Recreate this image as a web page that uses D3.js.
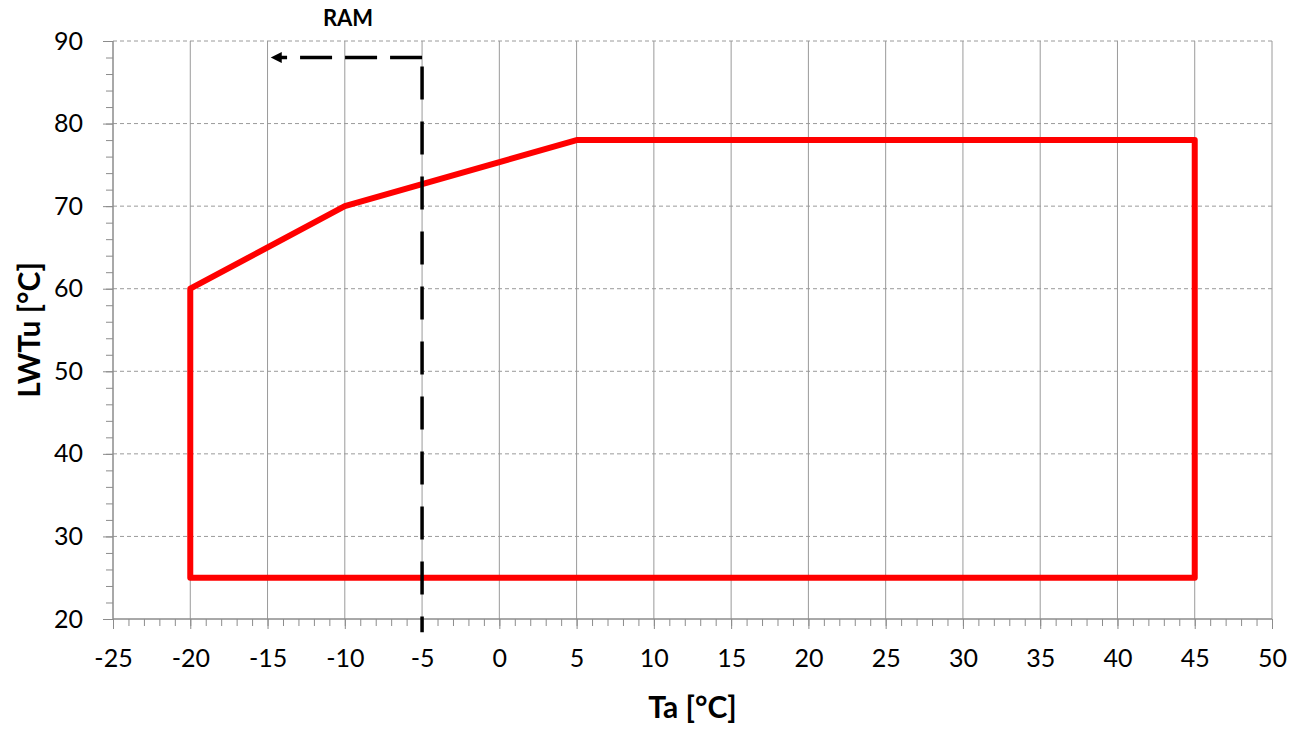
<!DOCTYPE html>
<html>
<head>
<meta charset="utf-8">
<script src="https://cdn.jsdelivr.net/npm/d3@7"></script>
<style>
  body { margin: 0; background: #fff; }
  text { font-family: Lato, "Open Sans", sans-serif; }
</style>
</head>
<body>
<div id="chart"></div>
<script>
// envelope of the operating range
let envTa = [-20, -20, -10, 5, 45, 45, -20];
let envLwt = [25, 60, 70, 78, 78, 25, 25];

let xTicks = [-25, -20, -15, -10, -5, 0, 5, 10, 15, 20, 25, 30, 35, 40, 45, 50];
let yTicks = [20, 30, 40, 50, 60, 70, 80, 90];
let xMinor = [-25,-24,-23,-22,-21,-20,-19,-18,-17,-16,-15,-14,-13,-12,-11,-10,-9,-8,-7,-6,-5,-4,-3,-2,-1,0,
              1,2,3,4,5,6,7,8,9,10,11,12,13,14,15,16,17,18,19,20,21,22,23,24,25,26,27,28,29,30,
              31,32,33,34,35,36,37,38,39,40,41,42,43,44,45,46,47,48,49,50];
let yMinor = [20,22,24,26,28,30,32,34,36,38,40,42,44,46,48,50,52,54,56,58,60,62,64,66,68,70,72,74,76,78,80,82,84,86,88,90];

// RAM limit marker
let ramTa = -5;
let ramArrowTa = -15;
let ramArrowLwt = 88;
let ramBottom = 18.4;

let width = 1300, height = 729;
let pLeft = 113, pRight = 1272, pTop = 41, pBottom = 619;

let svg = d3.select("#chart").append("svg")
    .attr("width", width)
    .attr("height", height);

let x = d3.scaleLinear().domain([-25, 50]).range([pLeft, pRight]);
let y = d3.scaleLinear().domain([20, 90]).range([pBottom, pTop]);

// grid
svg.append("g").selectAll("line").data(xTicks.slice(1)).enter().append("line")
    .attr("x1", d => x(d)).attr("x2", d => x(d))
    .attr("y1", pTop).attr("y2", pBottom)
    .attr("stroke", "#9a9a9a").attr("stroke-width", 1);

svg.append("g").selectAll("line").data(yTicks.slice(1)).enter().append("line")
    .attr("x1", pLeft).attr("x2", pRight)
    .attr("y1", d => y(d)).attr("y2", d => y(d))
    .attr("stroke", "#9a9a9a").attr("stroke-width", 1)
    .attr("stroke-dasharray", "4,3");

// minor ticks
let xMinorAxis = svg.append("g")
    .attr("transform", "translate(0," + pBottom + ")")
    .call(d3.axisBottom(x).tickValues(xMinor).tickSize(7).tickFormat(""));
let yMinorAxis = svg.append("g")
    .attr("transform", "translate(" + pLeft + ",0)")
    .call(d3.axisLeft(y).tickValues(yMinor).tickSize(7).tickFormat(""));

// major ticks + labels
let xAxis = svg.append("g")
    .attr("transform", "translate(0," + pBottom + ")")
    .call(d3.axisBottom(x).tickValues(xTicks).tickSize(10).tickPadding(20).tickFormat(d => String(d)));
let yAxis = svg.append("g")
    .attr("transform", "translate(" + pLeft + ",0)")
    .call(d3.axisLeft(y).tickValues(yTicks).tickSize(10).tickPadding(20).tickFormat(d => String(d)));

[xMinorAxis, yMinorAxis, xAxis, yAxis].forEach(a => {
    a.selectAll("line").attr("stroke", "#8c8c8c");
    a.select(".domain").attr("stroke", "#8c8c8c").attr("d",
        a === xAxis || a === xMinorAxis
            ? "M" + pLeft + ",0H" + pRight
            : "M0," + pTop + "V" + pBottom);
});

xAxis.selectAll("text")
    .style("font-family", "Lato, 'Open Sans', sans-serif")
    .style("font-size", "25px")
    .attr("fill", "#000")
    .attr("dy", "0.71em");
yAxis.selectAll("text")
    .style("font-family", "Lato, 'Open Sans', sans-serif")
    .style("font-size", "25px")
    .attr("fill", "#000")
    .attr("x", -30);

// envelope
let line = d3.line().x(d => x(d[0])).y(d => y(d[1]));
svg.append("path")
    .attr("d", line(envTa.map((t, i) => [t, envLwt[i]])) + "Z")
    .attr("fill", "none")
    .attr("stroke", "#ff0000")
    .attr("stroke-width", 6)
    .attr("stroke-linejoin", "round");

// RAM dashed line and arrow
svg.append("defs").append("marker")
    .attr("id", "arrow")
    .attr("viewBox", "0 0 10 10")
    .attr("refX", 2).attr("refY", 5)
    .attr("markerUnits", "userSpaceOnUse")
    .attr("markerWidth", 12).attr("markerHeight", 11)
    .attr("orient", "auto")
    .append("path")
    .attr("d", "M0,0L10,5L0,10Z")
    .attr("fill", "#000");

svg.append("line")
    .attr("x1", x(ramTa)).attr("x2", x(ramTa))
    .attr("y1", y(ramArrowLwt)).attr("y2", y(ramBottom))
    .attr("stroke", "#000").attr("stroke-width", 3.5)
    .attr("stroke-dasharray", "0,9,33,13");

svg.append("line")
    .attr("x1", x(ramTa)).attr("x2", x(ramArrowTa) + 12)
    .attr("y1", y(ramArrowLwt)).attr("y2", y(ramArrowLwt))
    .attr("stroke", "#000").attr("stroke-width", 3.5)
    .attr("stroke-dasharray", "32,13")
    .attr("marker-end", "url(#arrow)");

svg.append("text")
    .attr("x", 348).attr("y", 26)
    .attr("text-anchor", "middle")
    .style("font-size", "22px").style("font-weight", "bold")
    .text("RAM");

// axis titles
svg.append("text")
    .attr("x", (pLeft + pRight) / 2).attr("y", 718)
    .attr("text-anchor", "middle")
    .style("font-size", "30px").style("font-weight", "bold")
    .text("Ta [°C]");

svg.append("text")
    .attr("transform", "translate(40," + (pTop + pBottom) / 2 + ") rotate(-90)")
    .attr("text-anchor", "middle")
    .style("font-size", "30px").style("font-weight", "bold")
    .text("LWTu [°C]");
</script>
</body>
</html>
